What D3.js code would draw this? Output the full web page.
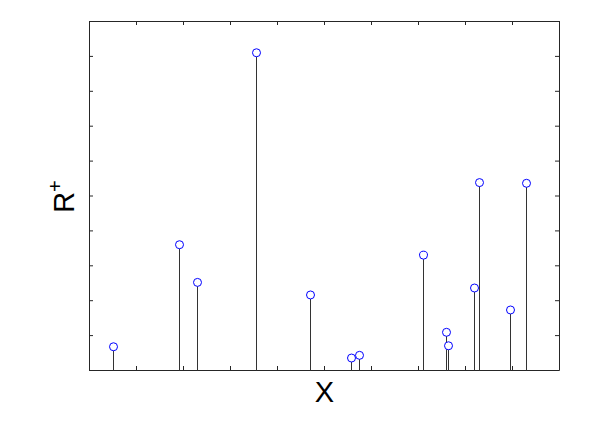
<!DOCTYPE html>
<html>
<head>
<meta charset="utf-8">
<script src="https://cdn.jsdelivr.net/npm/d3@7.9.0/dist/d3.min.js"></script>
<style>
  body { margin: 0; background: #fff; }
  svg { display: block; font-family: "Liberation Sans", Arial, sans-serif; }
</style>
</head>
<body>
<svg id="chart" width="607" height="429"></svg>
<script>
// stem positions along X and their heights (R+)
const xValues = [0.51, 1.91, 2.29, 3.55, 4.71, 5.585, 5.75, 7.10, 7.60, 7.63, 8.20, 8.29, 8.96, 9.30];
const rValues = [0.666, 3.59, 2.51, 9.09, 2.15, 0.343, 0.42, 3.29, 1.08, 0.694, 2.35, 5.37, 1.72, 5.35];
const xTicks = d3.range(0, 11);
const yTicks = d3.range(0, 11);

const svg = d3.select('#chart');
const plotLeft = 89, plotRight = 559, plotTop = 21, plotBottom = 370;

const x = d3.scaleLinear().domain([0, 10]).range([plotLeft, plotRight]);
const y = d3.scaleLinear().domain([0, 10]).range([plotBottom, plotTop]);

const axisColor = '#262626';

// axes box with inward ticks, no labels
function styleAxis(g) {
    g.selectAll('path, line').attr('stroke', axisColor);
    g.selectAll('text').remove();
}

svg.append('g')
    .attr('transform', `translate(0,${plotBottom})`)
    .call(d3.axisBottom(x).tickValues(xTicks).tickSizeInner(-4).tickSizeOuter(0).tickFormat(''))
    .call(styleAxis);

svg.append('g')
    .attr('transform', `translate(0,${plotTop})`)
    .call(d3.axisTop(x).tickValues(xTicks).tickSizeInner(-4).tickSizeOuter(0).tickFormat(''))
    .call(styleAxis);

svg.append('g')
    .attr('transform', `translate(${plotLeft},0)`)
    .call(d3.axisLeft(y).tickValues(yTicks).tickSizeInner(-4).tickSizeOuter(0).tickFormat(''))
    .call(styleAxis);

svg.append('g')
    .attr('transform', `translate(${plotRight},0)`)
    .call(d3.axisRight(y).tickValues(yTicks).tickSizeInner(-4).tickSizeOuter(0).tickFormat(''))
    .call(styleAxis);

const points = xValues.map((v, i) => ({ x: v, r: rValues[i] }));

// stems
svg.append('g')
    .selectAll('line')
    .data(points)
    .join('line')
    .attr('x1', d => Math.round(x(d.x)) + 0.5)
    .attr('x2', d => Math.round(x(d.x)) + 0.5)
    .attr('y1', y(0) + 0.5)
    .attr('y2', d => y(d.r))
    .attr('stroke', '#333')
    .attr('stroke-width', 1);

// markers
svg.append('g')
    .selectAll('circle')
    .data(points)
    .join('circle')
    .attr('cx', d => Math.round(x(d.x)) + 0.5)
    .attr('cy', d => y(d.r))
    .attr('r', 4)
    .attr('fill', '#fff')
    .attr('stroke', '#0000ff')
    .attr('stroke-width', 1);

// axis labels
svg.append('text')
    .attr('x', (plotLeft + plotRight) / 2 + 0.5)
    .attr('y', 401.5)
    .attr('text-anchor', 'middle')
    .attr('font-size', 29)
    .attr('fill', '#000')
    .text('X');

const yLabel = svg.append('text')
    .attr('transform', `translate(73.5,${(plotTop + plotBottom) / 2 + 1}) rotate(-90)`)
    .attr('text-anchor', 'middle')
    .attr('font-size', 29)
    .attr('fill', '#000');
yLabel.append('tspan').text('R');
yLabel.append('tspan')
    .attr('font-size', 20)
    .attr('dy', -12)
    .text('+');
</script>
</body>
</html>
